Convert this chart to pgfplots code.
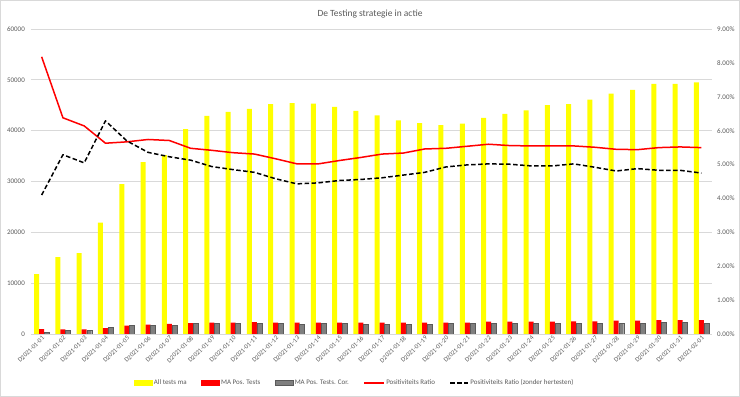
\documentclass[border=0pt]{standalone}
\usepackage{pgfplots}
\pgfplotsset{compat=1.18}
\usepackage{pgfplotstable}
\usepackage{fontspec}
\setmainfont{Carlito}
\definecolor{tickgray}{HTML}{595959}
\definecolor{gridgray}{HTML}{D9D9D9}
\definecolor{xlyellow}{HTML}{FFFF00}
\definecolor{xlred}{HTML}{FF0000}
\definecolor{xlgray}{HTML}{7F7F7F}
\definecolor{xlgrayedge}{HTML}{5A5A5A}

\pgfplotstableread{
x all pos cor ratio ratioz
0 11800 980 330 8.18 4.10
1 15100 920 650 6.38 5.29
2 15900 920 650 6.14 5.05
3 21900 1180 1240 5.63 6.29
4 29500 1640 1640 5.67 5.70
5 33800 1840 1770 5.74 5.36
6 35200 1970 1770 5.71 5.23
7 40300 2160 2030 5.48 5.13
8 42900 2230 2030 5.42 4.94
9 43700 2230 2030 5.35 4.85
10 44300 2360 2030 5.31 4.77
11 45200 2230 2030 5.17 4.58
12 45400 2230 1900 5.02 4.43
13 45300 2230 2030 5.02 4.46
14 44700 2230 2030 5.12 4.53
15 43900 2230 1900 5.21 4.56
16 43000 2230 1900 5.31 4.61
17 42000 2230 1900 5.34 4.69
18 41500 2230 1900 5.46 4.77
19 41100 2230 2030 5.48 4.93
20 41400 2230 2030 5.54 4.99
21 42500 2430 2060 5.60 5.02
22 43300 2430 2100 5.56 5.01
23 44000 2430 2100 5.55 4.96
24 45000 2430 2100 5.55 4.96
25 45200 2490 2160 5.55 5.02
26 46100 2490 2160 5.51 4.92
27 47300 2620 2160 5.45 4.81
28 48000 2620 2160 5.44 4.88
29 49200 2750 2300 5.50 4.83
30 49200 2750 2300 5.52 4.83
31 49500 2750 2160 5.50 4.75
}\data

\begin{document}
\begin{tikzpicture}
\draw[gridgray, line width=0.75bp] (0.4bp,0.4bp) rectangle (739.6bp,396.6bp);
\useasboundingbox (0bp,0bp) rectangle (740bp,397bp);
\node[font=\fontsize{9.5}{11}\selectfont, text=tickgray] at (370bp,383bp) {De Testing strategie in actie};
\begin{axis}[
  at={(31bp,63bp)}, anchor=south west,
  width=681bp, height=305bp, scale only axis,
  xmin=-0.5, xmax=31.5, ymin=0, ymax=60000,
  ytick={0,10000,...,60000},
  ymajorgrids, grid style={gridgray, line width=0.75bp},
  axis line style={draw=none},
  major tick length=0pt,
  xtick={0,...,31},
  xticklabels={D2021-01-01,D2021-01-02,D2021-01-03,D2021-01-04,D2021-01-05,D2021-01-06,D2021-01-07,D2021-01-08,D2021-01-09,D2021-01-10,D2021-01-11,D2021-01-12,D2021-01-13,D2021-01-14,D2021-01-15,D2021-01-16,D2021-01-17,D2021-01-18,D2021-01-19,D2021-01-20,D2021-01-21,D2021-01-22,D2021-01-23,D2021-01-24,D2021-01-25,D2021-01-26,D2021-01-27,D2021-01-28,D2021-01-29,D2021-01-30,D2021-01-31,D2021-02-01},
  xticklabel style={rotate=45, anchor=north east, inner sep=1bp, font=\fontsize{6.5}{7}\selectfont, text=tickgray},
  yticklabel style={font=\fontsize{7}{8}\selectfont, text=tickgray, inner sep=1bp, xshift=-5bp},
  scaled y ticks=false,
  /pgf/number format/assume math mode=true,
  yticklabel={\pgfmathprintnumber[fixed, set thousands separator={}]{\tick}},
]
\addplot[ybar, bar width=5bp, bar shift=-5bp, fill=xlyellow, draw=none] table[x=x,y=all]{\data};
\addplot[ybar, bar width=5bp, bar shift=0bp, fill=xlred, draw=none] table[x=x,y=pos]{\data};
\addplot[ybar, bar width=5bp, bar shift=5bp, fill=xlgray, draw=xlgrayedge, line width=0.4bp] table[x=x,y=cor]{\data};
\end{axis}
\begin{axis}[
  at={(31bp,63bp)}, anchor=south west,
  width=681bp, height=305bp, scale only axis,
  xmin=-0.5, xmax=31.5, ymin=0, ymax=9,
  axis y line*=right, axis x line=none,
  axis line style={draw=none},
  major tick length=0pt,
  ytick={0,1,...,9},
  yticklabel style={font=\fontsize{7}{8}\selectfont, text=tickgray, inner sep=1bp, xshift=4bp},
  /pgf/number format/assume math mode=true,
  yticklabel={\pgfmathprintnumber[fixed, fixed zerofill, precision=2]{\tick}\%},
  legend columns=5,
  legend style={at={(0.475,-0.1607)}, anchor=center, draw=none, fill=none,
    font=\fontsize{7}{8}\selectfont, text=tickgray,
    /tikz/every even column/.append style={column sep=13bp},
    nodes={inner sep=1.5bp}},
]
\addlegendimage{legend image code/.code={\fill[xlyellow] (0bp,-2.5bp) rectangle (18bp,2.5bp);}}
\addlegendentry{All tests ma}
\addlegendimage{legend image code/.code={\fill[xlred] (0bp,-2.5bp) rectangle (18bp,2.5bp);}}
\addlegendentry{MA Pos. Tests}
\addlegendimage{legend image code/.code={\filldraw[fill=xlgray, draw=xlgrayedge, line width=0.4bp] (0bp,-2.5bp) rectangle (18bp,2.5bp);}}
\addlegendentry{MA Pos. Tests. Cor.}
\addplot[xlred, line width=1.5bp, line join=round, mark=none,
  legend image code/.code={\draw[xlred, line width=1.5bp] (0bp,0bp) -- (20bp,0bp);}] table[x=x,y=ratio]{\data};
\addlegendentry{Positiviteits Ratio}
\addplot[black, line width=1.5bp, dash pattern=on 4.5bp off 2.5bp, line join=round, mark=none,
  legend image code/.code={\draw[black, line width=1.5bp, dash pattern=on 4.5bp off 2.5bp] (0bp,0bp) -- (18bp,0bp);}] table[x=x,y=ratioz]{\data};
\addlegendentry{Positiviteits Ratio (zonder hertesten)}
\end{axis}
\end{tikzpicture}
\end{document}
